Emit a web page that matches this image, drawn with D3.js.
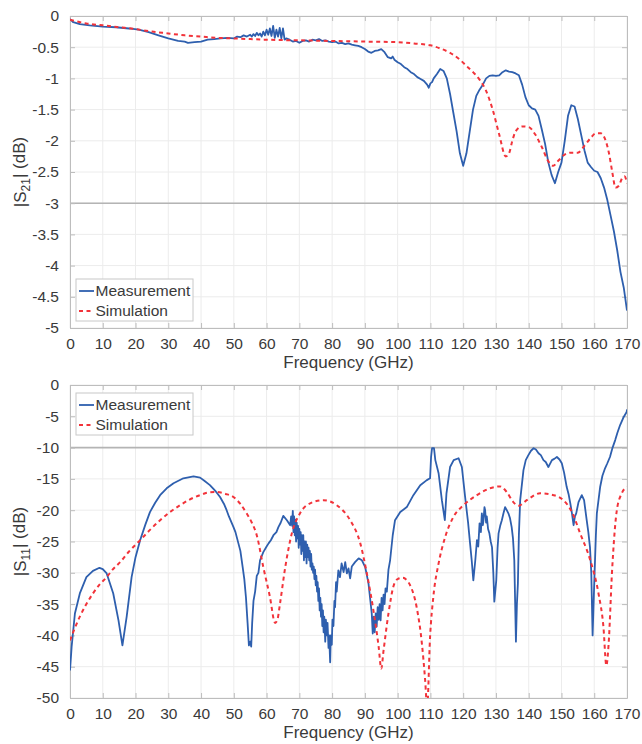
<!DOCTYPE html>
<html>
<head>
<meta charset="utf-8">
<script src="https://cdn.jsdelivr.net/npm/d3@7"></script>
<style>
  html, body { margin: 0; padding: 0; background: #fff; }
  svg { display: block; font-family: "Liberation Sans", Arial, Helvetica, sans-serif; }
</style>
</head>
<body>
<svg id="chart" width="642" height="744"></svg>
<script>
// ---------- DATA ----------
const xTicks = [0,10,20,30,40,50,60,70,80,90,100,110,120,130,140,150,160,170];
const s21Ticks = [0,-0.5,-1,-1.5,-2,-2.5,-3,-3.5,-4,-4.5,-5];
const s11Ticks = [0,-5,-10,-15,-20,-25,-30,-35,-40,-45,-50];
const seriesNames = ["Measurement", "Simulation"];

// |S21| measurement
const s21MeasFreq = [0,1,3,6,10,14,18,21,24,27,30,33,35,36,38,40,42,44,46,48,50,51,52,53,54,55,55.5,56,56.5,57,57.5,58,58.5,59,59.5,60,60.5,61,61.5,62,62.5,63,63.5,64,64.5,65,65.5,66,67,68,69,70,71,72,73,74,75,76,77,78,79,80,81,82,83,84,85,86,87,88,89,90,91,92,93,94,95,96,97,98,98.5,99,100,101,102,103,104,105,106,107,108,109,109.5,110,110.5,111,112,113,114,115,116,117,118,119,120,121,122,123,124,125,126,127,128,129,130,131,132,133,134,135,136,137,138,139,140,141,142,143,144,145,146,147,148,149,150,151,152,153,154,155,156,157,158,159,160,161,162,163,164,165,166,167,168,169,170];
const s21Meas = [-0.05,-0.1,-0.13,-0.15,-0.17,-0.18,-0.2,-0.22,-0.26,-0.31,-0.36,-0.4,-0.41,-0.43,-0.42,-0.41,-0.38,-0.37,-0.36,-0.35,-0.36,-0.33,-0.34,-0.31,-0.33,-0.3,-0.33,-0.29,-0.32,-0.27,-0.31,-0.28,-0.33,-0.25,-0.31,-0.22,-0.3,-0.2,-0.32,-0.16,-0.35,-0.22,-0.33,-0.19,-0.36,-0.2,-0.38,-0.36,-0.38,-0.41,-0.4,-0.43,-0.4,-0.39,-0.41,-0.38,-0.39,-0.37,-0.4,-0.39,-0.41,-0.42,-0.41,-0.44,-0.43,-0.45,-0.44,-0.46,-0.47,-0.48,-0.5,-0.53,-0.57,-0.59,-0.56,-0.55,-0.53,-0.58,-0.66,-0.68,-0.65,-0.7,-0.74,-0.77,-0.82,-0.85,-0.9,-0.93,-0.98,-1.01,-1.04,-1.1,-1.15,-1.08,-1.06,-1.0,-0.93,-0.85,-0.88,-1.0,-1.25,-1.55,-1.85,-2.2,-2.4,-2.2,-1.85,-1.5,-1.28,-1.18,-1.1,-1.0,-0.96,-0.95,-0.96,-0.95,-0.9,-0.87,-0.89,-0.9,-0.92,-0.95,-1.1,-1.3,-1.43,-1.48,-1.5,-1.6,-1.82,-2.05,-2.35,-2.55,-2.68,-2.5,-2.35,-2.0,-1.6,-1.43,-1.45,-1.65,-1.9,-2.15,-2.35,-2.42,-2.48,-2.5,-2.6,-2.75,-2.95,-3.2,-3.45,-3.75,-4.1,-4.35,-4.72];

// |S21| simulation
const s21SimFreq = [0,5,10,15,20,25,30,35,40,45,50,55,60,70,80,90,100,105,110,113,116,119,121,123,125,127,129,131,133,134,135,136,138,140,142,144,146,147.5,149,151,153,155,157,159,160.5,162,163.5,164.5,165.5,166.5,167.5,168.5,169.3,170];
const s21Sim = [-0.06,-0.12,-0.15,-0.18,-0.21,-0.25,-0.28,-0.31,-0.33,-0.35,-0.36,-0.37,-0.38,-0.39,-0.4,-0.41,-0.42,-0.44,-0.47,-0.52,-0.59,-0.7,-0.8,-0.9,-1.02,-1.2,-1.5,-1.9,-2.25,-2.2,-2.0,-1.85,-1.77,-1.78,-1.9,-2.1,-2.33,-2.4,-2.32,-2.22,-2.19,-2.19,-2.08,-1.95,-1.88,-1.88,-2.0,-2.2,-2.5,-2.75,-2.72,-2.6,-2.57,-2.68];

// |S11| measurement
const s11MeasFreq = [0,0.5,1.5,3,5,7,9,10,11.2,13.2,14.8,16,17.3,18.8,20,21.4,23,24.4,26,27.5,29.5,31.6,34.6,37.7,39.7,41,42.7,44.5,45.8,47,47.8,48.5,49.9,50.5,51.4,52,52.7,53.2,53.7,54.2,54.6,55,55.3,55.6,56,56.5,57,57.5,58,59,60,60.6,61.3,62.1,63,63.6,64.3,65.1,66.2,67.2,
  67.5,67.8,68.0,68.2,68.4,68.6,68.8,69.0,69.2,69.4,69.6,69.8,70.0,70.2,70.4,70.6,70.8,71.0,71.2,71.4,71.6,71.8,72.0,72.2,72.4,72.6,72.8,73.0,73.2,73.4,73.6,73.8,74.0,74.2,74.4,74.6,74.8,75.0,75.2,75.4,75.6,75.8,76.0,76.2,76.4,76.6,76.8,77.0,77.2,77.4,77.6,77.9,78.1,78.4,78.6,78.9,79.1,79.4,79.6,79.9,80.1,80.4,80.7,80.9,81.2,81.4,
  81.9,82.4,82.9,83.5,84,84.5,85,85.5,86,87,88.1,89.1,90.1,91.1,
  92.1,92.4,92.7,93.0,93.3,93.6,93.9,94.2,94.5,94.8,95.1,95.4,95.7,96.0,96.3,96.7,97.2,
  97.7,98.5,99.2,100.8,102.8,104.8,106.9,108.9,109.9,110.2,110.5,111.1,111.5,112.5,113.5,114.4,114.9,116,117.1,118.6,119.6,120.6,121.5,122.1,122.6,123.1,123.7,124.2,124.6,125,125.4,125.7,126,126.2,126.5,126.7,127,127.2,127.6,128,128.4,128.8,129.2,129.5,130.1,130.5,130.8,131.3,131.8,132.3,132.8,133.3,133.8,134.3,134.8,135.2,135.6,136.1,136.4,136.7,137,137.4,138.4,139.1,139.9,140.7,141.5,142.2,143,143.7,144.5,145.2,146,146.5,147.1,147.8,148.6,149.4,150.1,150.8,151.6,152.2,152.7,153.2,153.7,154.1,154.5,155.2,156.2,156.9,157.7,158.2,158.7,159.1,159.5,159.8,160.1,160.5,160.8,161.8,162.5,163.3,164,164.8,165.6,166.4,167.1,167.9,168.9,169.9,170];
const s11Meas = [-45.6,-41.8,-36.5,-33.3,-30.7,-29.7,-29.2,-29.4,-30.1,-33.3,-37.6,-41.6,-37.0,-30.7,-27.5,-24.8,-22.3,-20.3,-18.8,-17.6,-16.5,-15.7,-14.9,-14.6,-14.8,-15.3,-16.0,-17.0,-17.9,-19.0,-20.0,-21.0,-22.7,-23.5,-25.3,-26.5,-29.1,-31,-33.9,-38,-41.6,-41.0,-41.8,-38.0,-34.5,-33.0,-30.5,-30.0,-28.0,-26.7,-25.8,-25.3,-24.8,-24.0,-23.5,-22.7,-22.0,-20.9,-21.6,-22.4,
  -21.0,-22.5,-20.1,-23.5,-21.0,-24.0,-21.5,-25.0,-22.0,-24.5,-22.5,-26.0,-23.0,-25.5,-23.5,-27.0,-24.0,-26.5,-24.0,-28.0,-25.0,-27.5,-25.0,-28.5,-25.5,-27.5,-26.0,-28.0,-26.5,-29.0,-27.0,-29.5,-28.5,-30.0,-29.0,-31.0,-29.5,-32.0,-30.5,-33.0,-31.5,-34.5,-32.5,-36.0,-34.0,-37.0,-35.0,-38.5,-36.0,-39.5,-37.0,-41.0,-37.5,-40.0,-38.0,-42.0,-40.0,-44.3,-40.0,-41.5,-37.5,-38.5,-34.5,-35.5,-31.5,-33.0,
  -29.6,-30.7,-28.5,-29.9,-28.3,-30.1,-29.3,-30.9,-29.0,-28.3,-27.7,-28.0,-29.1,-31.7,
  -36.5,-39.7,-37.0,-39.5,-36.5,-38.6,-35.5,-37.5,-35.0,-37.6,-34.0,-36.0,-33.5,-35.0,-32.5,-33.0,-29.5,
  -28.0,-24.0,-21.6,-20.3,-19.5,-17.6,-16.0,-15.2,-14.9,-11.5,-10.1,-10.1,-12.0,-14.1,-18.4,-21.6,-17.3,-13.1,-12.0,-11.7,-13.1,-17.9,-22.0,-25.3,-28.0,-31.2,-28.0,-24.8,-25.8,-22.1,-23.5,-20.5,-22.4,-21.6,-19.5,-20.0,-22.0,-21.0,-23.0,-23.7,-25.0,-25.9,-30,-34.6,-31.2,-26,-23.7,-22.5,-21.6,-20.5,-19.5,-20.0,-20.5,-21.3,-22.7,-24.5,-28.0,-41.0,-35,-31.7,-24,-18.4,-13.6,-12.0,-11.2,-10.5,-10.1,-10.3,-10.9,-11.2,-12.0,-12.3,-13.1,-12.6,-12.0,-11.8,-11.5,-11.9,-12.5,-14.0,-16.3,-17.5,-18.9,-20.5,-22.4,-21.0,-20.5,-18.7,-17.6,-18.4,-21.6,-23.5,-25.9,-30,-40.0,-35,-30.1,-24,-20.5,-16.3,-14.5,-13.3,-12.5,-11.5,-10.0,-8.8,-7.6,-6.4,-5.2,-4.3,-3.9];

// |S11| simulation
const s11SimFreq = [0,1.5,3,5,7,9,11.2,13,15.3,18,21.4,24.5,27.5,30.5,33.6,36.5,39.7,42,44.8,47.5,49.9,52,53.9,55.5,57,59,61,62.6,63.3,64.1,65.7,67.7,70.2,73.3,77.4,81.4,85.5,88.6,90.6,92.6,94.2,95,95.7,97.2,98.7,100,101.6,102.8,104,105.8,107.4,108.4,109,109.9,110.9,112.5,114.5,117,120.1,124.2,128.2,131.2,133.3,135.3,136.9,139.4,143.5,147.6,150.6,153.2,155.7,158.8,161.3,162.8,163.7,164.4,165.4,166.9,168.4,170];
const s11Sim = [-40.8,-38.8,-37.0,-35.0,-33.3,-31.9,-30.7,-29.5,-28.3,-26.6,-24.8,-23.1,-21.6,-20.3,-19.2,-18.3,-17.6,-17.2,-17.1,-17.4,-17.9,-19.0,-20.5,-22.0,-24.0,-29.1,-33.8,-38.0,-37.5,-34.9,-29.1,-23.7,-20.5,-18.9,-18.4,-19.2,-21.6,-25.3,-30.1,-36.0,-41.8,-45.3,-42.4,-36.5,-32.2,-31.0,-30.8,-31.2,-32.2,-35.5,-41.3,-47.2,-51.5,-40.2,-33.8,-28.5,-24.3,-21.1,-19.2,-17.6,-16.5,-16.2,-17.1,-18.7,-19.3,-18.4,-17.3,-17.6,-18.4,-20.3,-23.7,-28.0,-33.3,-38.6,-44.8,-41.3,-30.1,-20.0,-17.3,-16.3];

// ---------- DRAW ----------
const svg = d3.select("#chart");
const textColor = "#3a3a3a";
const axisColor = "#bdbdbd";
const gridColor = "#ececec";
const blue = "#2e5fae";
const red = "#f2333a";

const left = 70, right = 627;
const x = d3.scaleLinear().domain([0, 170]).range([left, right]);

function panel(cfg) {
  const y = d3.scaleLinear().domain([cfg.yMin, 0]).range([cfg.bottom, cfg.top]);
  const g = svg.append("g");
  const clipId = "clip" + cfg.id;
  g.append("clipPath").attr("id", clipId).append("rect")
    .attr("x", left).attr("y", cfg.top).attr("width", right - left).attr("height", cfg.bottom - cfg.top);

  // grid
  g.append("g").selectAll("line").data(xTicks).join("line")
    .attr("x1", d => x(d)).attr("x2", d => x(d))
    .attr("y1", cfg.top).attr("y2", cfg.bottom)
    .attr("stroke", gridColor).attr("stroke-width", 1);
  g.append("g").selectAll("line").data(cfg.yTicks).join("line")
    .attr("x1", left).attr("x2", right)
    .attr("y1", d => y(d)).attr("y2", d => y(d))
    .attr("stroke", gridColor).attr("stroke-width", 1);

  // reference line
  g.append("line")
    .attr("x1", left).attr("x2", right)
    .attr("y1", y(cfg.ref)).attr("y2", y(cfg.ref))
    .attr("stroke", "#b4b4b4").attr("stroke-width", 1.6);

  // axes (box with inward ticks)
  const axStyle = a => {
    a.select(".domain").attr("stroke", axisColor);
    a.selectAll(".tick line").attr("stroke", axisColor);
    a.selectAll(".tick text").attr("fill", textColor)
      .style("font-size", "15.5px");
  };
  const fmt = d => String(d);
  g.append("g").attr("transform", `translate(0,${cfg.bottom})`)
    .call(d3.axisBottom(x).tickValues(xTicks).tickSizeInner(-5).tickSizeOuter(0).tickPadding(10).tickFormat(fmt))
    .call(axStyle);
  g.append("g").attr("transform", `translate(0,${cfg.top})`)
    .call(d3.axisTop(x).tickValues(xTicks).tickSizeInner(-5).tickSizeOuter(0).tickFormat(""))
    .call(axStyle);
  g.append("g").attr("transform", `translate(${left},0)`)
    .call(d3.axisLeft(y).tickValues(cfg.yTicks).tickSizeInner(-5).tickSizeOuter(0).tickPadding(11).tickFormat(fmt))
    .call(axStyle);
  g.append("g").attr("transform", `translate(${right},0)`)
    .call(d3.axisRight(y).tickValues(cfg.yTicks).tickSizeInner(-5).tickSizeOuter(0).tickFormat(""))
    .call(axStyle);
  g.selectAll(".tick text").style("font-family", '"Liberation Sans", Arial, sans-serif');

  // curves
  const plot = g.append("g").attr("clip-path", `url(#${clipId})`);
  const simPts = cfg.simF.map((f, i) => [f, cfg.sim[i]]);
  const measPts = cfg.measF.map((f, i) => [f, cfg.meas[i]]);
  const lineLin = d3.line().x(d => x(d[0])).y(d => y(d[1]));
  const lineSmooth = d3.line().x(d => x(d[0])).y(d => y(d[1])).curve(d3.curveMonotoneX);
  plot.append("path").attr("d", lineLin(measPts))
    .attr("fill", "none").attr("stroke", blue).attr("stroke-width", 1.8)
    .attr("stroke-linejoin", "round");
  plot.append("path").attr("d", lineSmooth(simPts))
    .attr("fill", "none").attr("stroke", red).attr("stroke-width", 2)
    .attr("stroke-dasharray", "4,3.5");

  // x label
  g.append("text").attr("x", (left + right) / 2).attr("y", cfg.bottom + 40)
    .attr("text-anchor", "middle").attr("fill", textColor)
    .style("font-size", "17px").text("Frequency (GHz)");

  // y label
  const yl = g.append("text")
    .attr("transform", `translate(26,${(cfg.top + cfg.bottom) / 2}) rotate(-90)`)
    .attr("text-anchor", "middle").attr("fill", textColor)
    .style("font-size", "17px");
  yl.append("tspan").text("|S");
  yl.append("tspan").attr("dy", "0.3em").style("font-size", "12px").text(cfg.sub);
  yl.append("tspan").attr("dy", "-0.3em").text("| (dB)");

  // legend
  const lg = g.append("g").attr("transform", `translate(76,${cfg.legTop})`);
  lg.append("rect").attr("x", 0).attr("y", 0).attr("width", 117).attr("height", 42)
    .attr("fill", "#fff").attr("stroke", "#c8c8c8").attr("stroke-width", 1);
  const rows = [
    {name: seriesNames[0], color: blue, dash: null, w: 1.8},
    {name: seriesNames[1], color: red, dash: "4,3.5", w: 2}
  ];
  rows.forEach((r, i) => {
    const yy = 12 + i * 20;
    lg.append("line").attr("x1", 3).attr("x2", 18).attr("y1", yy).attr("y2", yy)
      .attr("stroke", r.color).attr("stroke-width", r.w)
      .attr("stroke-dasharray", r.dash);
    lg.append("text").attr("x", 19.5).attr("y", yy).attr("dy", "0.35em")
      .attr("fill", textColor).style("font-size", "15.5px").text(r.name);
  });
}

panel({id: "a", top: 16, bottom: 328, yMin: -5, yTicks: s21Ticks, ref: -3, sub: "21",
  measF: s21MeasFreq, meas: s21Meas, simF: s21SimFreq, sim: s21Sim, legTop: 279});
panel({id: "b", top: 385, bottom: 698, yMin: -50, yTicks: s11Ticks, ref: -10, sub: "11",
  measF: s11MeasFreq, meas: s11Meas, simF: s11SimFreq, sim: s11Sim, legTop: 393});
</script>
</body>
</html>
